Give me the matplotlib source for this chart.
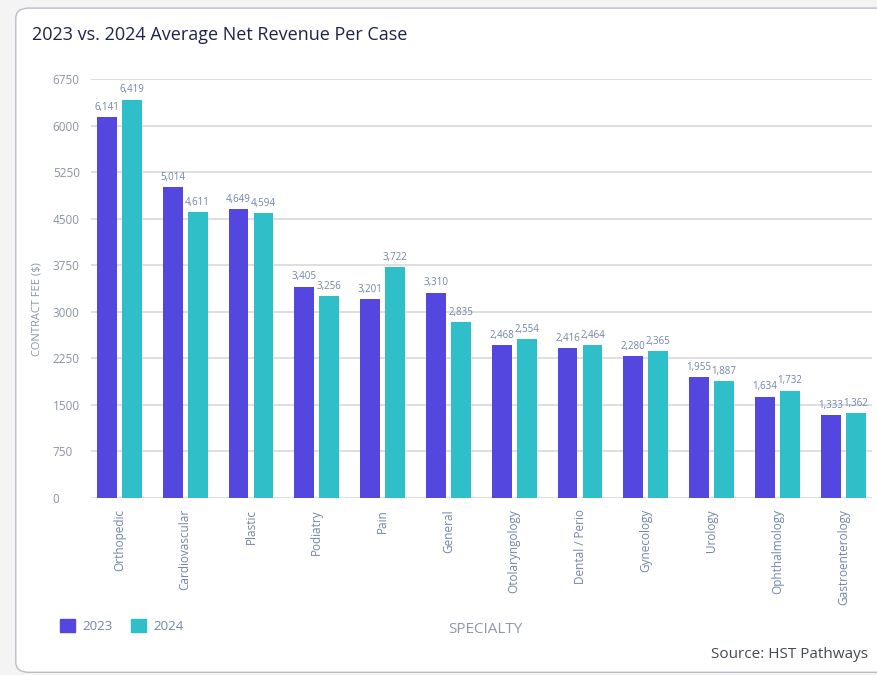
import numpy as np
import matplotlib
matplotlib.use('Agg')
import matplotlib.pyplot as plt
from matplotlib.patches import FancyBboxPatch, Patch

plt.rcParams['font.family'] = ['Open Sans', 'DejaVu Sans']

specialties = ['Orthopedic', 'Cardiovascular', 'Plastic', 'Podiatry', 'Pain', 'General',
               'Otolaryngology', 'Dental / Perio', 'Gynecology', 'Urology',
               'Ophthalmology', 'Gastroenterology']
rev_2023 = [6141, 5014, 4649, 3405, 3201, 3310, 2468, 2416, 2280, 1955, 1634, 1333]
rev_2024 = [6419, 4611, 4594, 3256, 3722, 2835, 2554, 2464, 2365, 1887, 1732, 1362]
yticks = [0, 750, 1500, 2250, 3000, 3750, 4500, 5250, 6000, 6750]

c23 = '#5447e0'
c24 = '#2fbfc8'
grey = '#8b93a3'
label_col = '#7185a8'

fig = plt.figure(figsize=(8.77, 6.75), dpi=100)
fig.patch.set_facecolor('#f4f4f5')

# white card behind everything
card = FancyBboxPatch((0.018, 0.004), 1.05, 0.984,
                      boxstyle='round,pad=0,rounding_size=0.015',
                      transform=fig.transFigure, facecolor='white',
                      edgecolor='#b9bdc6', linewidth=1.0, zorder=-5)
fig.patches.append(card)

fig.text(0.036, 0.948, '2023 vs. 2024 Average Net Revenue Per Case',
         fontsize=13, fontweight='medium', color='#1c2448', ha='left', va='center')

ax = fig.add_axes([0.1038, 0.2622, 0.89, 0.6207])
ax.set_facecolor('none')

x = np.arange(len(specialties))
w = 0.3
gap = 0.04
b1 = ax.bar(x - w / 2 - gap, rev_2023, w, color=c23, zorder=3)
b2 = ax.bar(x + w / 2 + gap, rev_2024, w, color=c24, zorder=3)

for bars, vals in ((b1, rev_2023), (b2, rev_2024)):
    for b, v in zip(bars, vals):
        ax.annotate(f'{v:,}', (b.get_x() + b.get_width() / 2, v),
                    xytext=(0, 3), textcoords='offset points',
                    ha='center', va='bottom', fontsize=7, color=label_col)

ax.set_xlim(-0.43, len(specialties) - 0.57)
ax.set_ylim(0, 6750)
ax.set_yticks(yticks)
ax.set_yticklabels([str(t) for t in yticks])
ax.grid(axis='y', color='#dcdcdf', linewidth=1.3, zorder=0)
ax.tick_params(axis='y', length=0, pad=27.5, labelsize=8.5, labelcolor=grey)
for lab in ax.get_yticklabels():
    lab.set_horizontalalignment('left')
ax.set_xticks(x)
ax.set_xticklabels(specialties, rotation=90, fontsize=8.5, color=label_col)
ax.tick_params(axis='x', length=0, pad=8)
for s in ax.spines.values():
    s.set_visible(False)

ax.set_ylabel('CONTRACT FEE ($)', fontsize=8, color=grey, labelpad=8)
ax.yaxis.set_label_coords(-0.062, 0.45)

fig.text(0.553, 0.068, 'SPECIALTY', fontsize=11, color='#8e98aa', ha='center', va='center')

handles = [Patch(color=c23, label='2023'), Patch(color=c24, label='2024')]
fig.legend(handles=handles, loc='center left', bbox_to_anchor=(0.055, 0.072),
           ncol=2, frameon=False, fontsize=9.5, labelcolor=label_col,
           handlelength=1.1, handleheight=1.1, handletextpad=0.6, columnspacing=1.4)

fig.text(0.99, 0.031, 'Source: HST Pathways', fontsize=11, color='#444a55',
         ha='right', va='center')

fig.savefig('out.png', dpi=100, facecolor=fig.get_facecolor())
